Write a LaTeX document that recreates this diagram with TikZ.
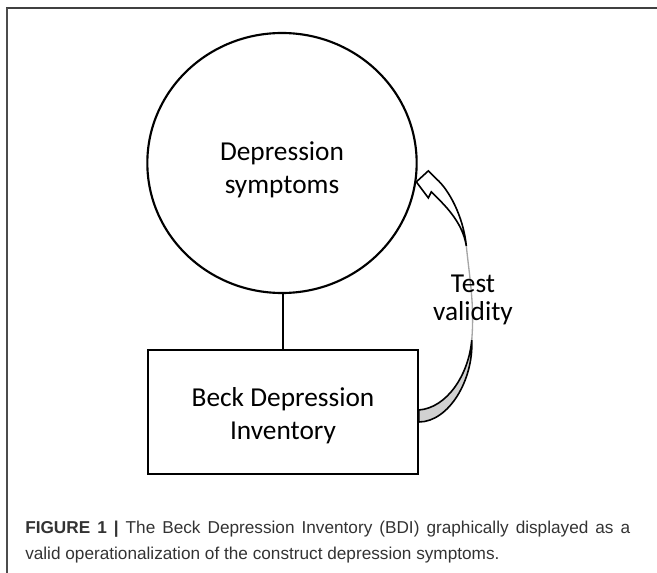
\documentclass[tikz,border=0pt]{standalone}
\usepackage{fontspec}
\setmainfont{Carlito}
\newfontfamily\capfont{Liberation Sans}
\usetikzlibrary{calc,shapes.geometric}
\begin{document}
\begin{tikzpicture}[x=0.75pt,y=-0.75pt,
    construct/.style={ellipse,draw,line width=1.6pt,minimum width=202pt,minimum height=195pt,inner sep=0pt},
    measure/.style={draw,line width=1.6pt,minimum width=202pt,minimum height=93pt,align=center,font=\fontsize{20.5}{25}\selectfont},
    label/.style={align=center,font=\fontsize{20.5}{25}\selectfont}]
    \useasboundingbox (0,0) rectangle (657,573);
    %% frame
    \draw[black!75,line width=1.5pt] (6,8.5) -- (657,8.5);
    \draw[black!70,line width=0.8pt] (7,8) -- (7,573);
    %% construct and measure
    \node[construct] (sym) at (282,163) {};
    \node[label] (symtext) at (282,170) {Depression\\symptoms};
    \node[measure] (bdi) at (283,412) {};
    \node[label] (bditext) at (283,416) {Beck Depression\\Inventory};
    \draw[line width=1.6pt] (283,293) coordinate (top) -- (top |- bdi.north);
    %% validity arrow
    \coordinate (base) at (bdi.east);
    \coordinate (tip) at (sym.-8);
    \coordinate (low) at ($(base)+(53,-72)$);
    \coordinate (high) at ($(tip)+(50,64)$);
    \draw[line width=1.2pt,fill=black!18] ($(base)+(0,-2)$) .. controls +(28,-2) and +(-3,35) .. (low)
        .. controls +(2,40) and +(30,0) .. ($(base)+(0,10)$) -- cycle;
    \draw[black!35,line width=1pt] (low) .. controls +(3,-35) and +(3,30) .. (high);
    \draw[line width=1.2pt,fill=white] (high) .. controls +(-3,-30) and +(12,10) .. ($(tip)+(20,-3)$)
        -- ($(tip)+(12,-11)$) -- (tip) -- ($(tip)+(12,16)$) -- ($(tip)+(15,10)$)
        .. controls +(12,12) and +(-4,-25) .. (high) -- cycle;
    \node[align=center,font=\fontsize{20.5}{21}\selectfont] (val) at (473,300) {Test\\validity};
    %% caption
    \node[anchor=north west,align=left,inner sep=0pt,text=black!80,font=\capfont\fontsize{12.9}{19.5}\selectfont] (cap) at (25,521)
        {\makebox[453.75pt][s]{\textbf{FIGURE 1 |} The Beck Depression Inventory (BDI) graphically displayed as a}\\valid operationalization of the construct depression symptoms.};
\end{tikzpicture}
\end{document}
